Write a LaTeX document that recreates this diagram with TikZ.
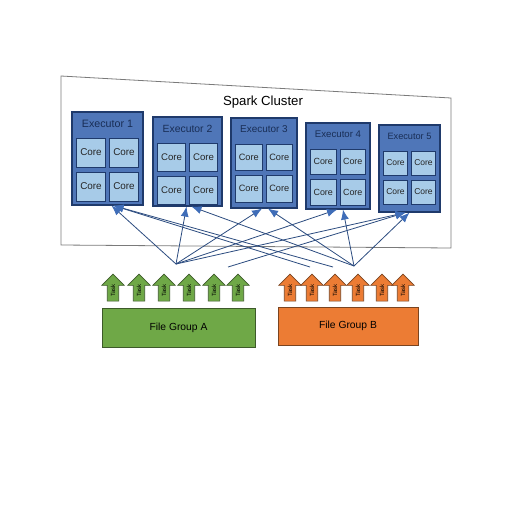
\documentclass[tikz,border=0pt]{standalone}
\usepackage{fontspec}
\setmainfont{Liberation Sans}
\usetikzlibrary{arrows.meta,shapes.arrows}
\definecolor{execfill}{HTML}{4F76B8}
\definecolor{execdraw}{HTML}{1F3A6B}
\definecolor{corefill}{HTML}{A7CBE8}
\definecolor{linecol}{HTML}{2C4C80}
\definecolor{tipcol}{HTML}{3F6DB8}
\definecolor{greenfill}{HTML}{6FA847}
\definecolor{greendraw}{HTML}{3D5A2A}
\definecolor{orangefill}{HTML}{EC7C34}
\definecolor{orangedraw}{HTML}{7A4420}
\definecolor{clusterdraw}{HTML}{7A7A7A}
\begin{document}
\begin{tikzpicture}[x=1pt,y=-1pt,
  execbox/.style={draw=execdraw, fill=execfill, line width=1.2pt, inner sep=0pt},
  corebox/.style={draw=execdraw, fill=corefill, line width=0.8pt, inner sep=0pt, text=black!85},
  link/.style={draw=linecol, line width=0.8pt, -{Latex[length=10pt,width=8pt,color=tipcol]}},
  taskbase/.style={single arrow, rotate=90, minimum height=27pt, minimum width=22pt,
    single arrow head extend=5.5pt, inner xsep=2pt, inner ysep=3.2pt, line width=0.6pt,
    font=\fontsize{6}{6}\selectfont},
  taskA/.style={taskbase, draw=greendraw, fill=greenfill},
  taskB/.style={taskbase, draw=orangedraw, fill=orangefill},
  groupbox/.style={line width=0.8pt, inner sep=0pt, font=\fontsize{10.3}{12}\selectfont},
]
\useasboundingbox (0,0) rectangle (512,512);
\fill[white] (0,0) rectangle (512,512);

% cluster container
\draw[clusterdraw, fill=white, line width=0.8pt] (61,76) -- (451,98) -- (451,248) -- (61,245) -- cycle;
\node[font=\fontsize{13.2}{15}\selectfont] (SC) at (263,102) {Spark Cluster};

% executors
\foreach \n/\cx/\t/\w/\h in {1/107.5/112/71/93, 2/187.5/117/69/89, 3/264/118/66/90, 4/338/123/64/86, 5/409.5/125/61/87}{
  \pgfmathsetmacro\efs{10.7*\w/71}
  \pgfmathsetmacro\cfs{9.9*\w/71}
  \pgfmathsetmacro\cs{(\w-13)/2}
  \pgfmathsetmacro\dx{\cs/2+2}
  \pgfmathsetmacro\ra{\t+26+\cs/2}
  \pgfmathsetmacro\rb{\t+31+1.5*\cs}
  \node[execbox, minimum width=\w pt, minimum height=\h pt] (E\n) at (\cx,\t+\h/2) {};
  \node[font=\fontsize{\efs}{\efs}\selectfont, text=execdraw!80!black, inner sep=0pt] (T\n) at (\cx,\t+11.5) {Executor \n};
  \node[corebox, minimum size=\cs pt, font=\fontsize{\cfs}{\cfs}\selectfont] (C\n a) at (\cx-\dx,\ra) {Core};
  \node[corebox, minimum size=\cs pt, font=\fontsize{\cfs}{\cfs}\selectfont] (C\n b) at (\cx+\dx,\ra) {Core};
  \node[corebox, minimum size=\cs pt, font=\fontsize{\cfs}{\cfs}\selectfont] (C\n c) at (\cx-\dx,\rb) {Core};
  \node[corebox, minimum size=\cs pt, font=\fontsize{\cfs}{\cfs}\selectfont] (C\n d) at (\cx+\dx,\rb) {Core};
}

% hubs and free ends
\coordinate (L) at (176,264);
\coordinate (R) at (354,266);
\coordinate (F1) at (228,267);
\coordinate (F2) at (310,267);
\coordinate (F3) at (333,267);

% connectors
\draw[link] (L) -- ([xshift=4pt]E1.south);
\draw[link] (F2) -- ([xshift=6pt]E1.south);
\draw[link] (F3) -- ([xshift=6pt]E1.south);
\draw[link] (L) -- ([xshift=-1pt]E2.south);
\draw[link] (R) -- ([xshift=4pt]E2.south);
\draw[link] (L) -- ([xshift=-2pt]E3.south);
\draw[link] (R) -- ([xshift=4pt]E3.south);
\draw[link] (L) -- ([xshift=-1pt]E4.south);
\draw[link] (R) -- ([xshift=5pt]E4.south);
\draw[link] (L) -- ([xshift=-4pt]E5.south);
\draw[link] (F1) -- ([xshift=-4pt]E5.south);
\draw[link] (R) -- ([xshift=0pt]E5.south);

% task arrows
\foreach \i/\x in {1/113,2/139,3/164,4/189,5/214,6/238}{
  \node[taskA] (A\i) at (\x,290.5) {Task};
}
\foreach \i/\x in {1/290,2/312,3/335,4/358,5/382,6/403}{
  \node[taskB] (B\i) at (\x,290.5) {Task};
}

% file groups
\node[groupbox, draw=greendraw, fill=greenfill, minimum width=153pt, minimum height=39pt] (GA) at (178.5,327.5) {File Group A};
\node[groupbox, draw=orangedraw, fill=orangefill, minimum width=140pt, minimum height=38pt] (GB) at (348,326) {File Group B};
\end{tikzpicture}
\end{document}
